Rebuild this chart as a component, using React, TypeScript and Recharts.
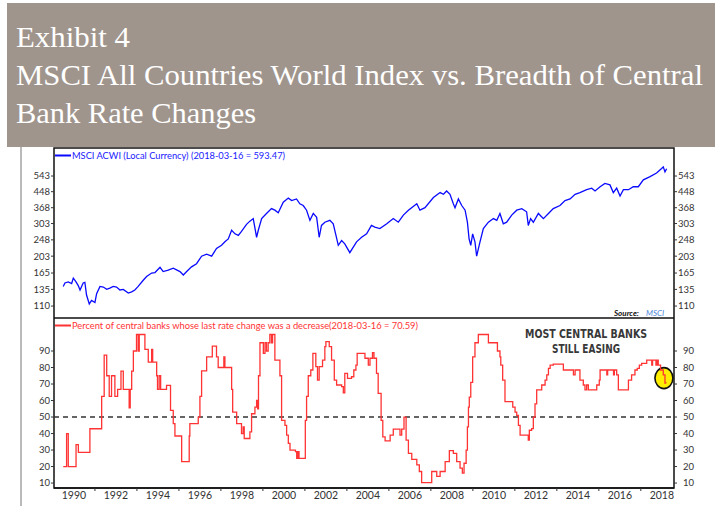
import React from 'react';
import { LineChart, Line, XAxis, YAxis, ReferenceLine, ReferenceArea, ReferenceDot } from 'recharts';

// MSCI ACWI (local currency)
const msciYears = [
  1989.49, 1989.57, 1989.73, 1989.89, 1989.97, 1990.1, 1990.21, 1990.29, 1990.44, 1990.52,
  1990.6, 1990.73, 1990.84, 1991.0, 1991.08, 1991.24, 1991.4, 1991.56, 1991.71, 1991.87,
  1992.03, 1992.19, 1992.35, 1992.59, 1992.75, 1992.9, 1993.06, 1993.3, 1993.46, 1993.7,
  1993.86, 1994.1, 1994.25, 1994.49, 1994.73, 1995.05, 1995.21, 1995.37, 1995.6, 1995.84,
  1996.08, 1996.32, 1996.56, 1996.79, 1997.03, 1997.19, 1997.35, 1997.51, 1997.67, 1997.83,
  1997.98, 1998.22, 1998.38, 1998.54, 1998.7, 1998.78, 1998.94, 1999.17, 1999.41, 1999.57,
  1999.73, 1999.97, 2000.21, 2000.37, 2000.6, 2000.76, 2000.92, 2001.08, 2001.24, 2001.4,
  2001.56, 2001.68, 2001.79, 2001.95, 2002.19, 2002.35, 2002.48, 2002.59, 2002.75, 2002.9,
  2003.14, 2003.46, 2003.7, 2003.94, 2004.17, 2004.33, 2004.57, 2004.9, 2005.21, 2005.45,
  2005.69, 2005.93, 2006.33, 2006.48, 2006.72, 2007.12, 2007.44, 2007.6, 2007.75, 2007.91,
  2008.07, 2008.15, 2008.31, 2008.47, 2008.63, 2008.74, 2008.82, 2008.9, 2008.99, 2009.1,
  2009.18, 2009.34, 2009.5, 2009.74, 2009.98, 2010.14, 2010.29, 2010.45, 2010.61, 2010.85,
  2011.09, 2011.33, 2011.56, 2011.64, 2011.75, 2011.88, 2012.12, 2012.36, 2012.6, 2012.83,
  2013.15, 2013.39, 2013.63, 2013.87, 2014.1, 2014.42, 2014.66, 2014.82, 2015.06, 2015.29,
  2015.53, 2015.69, 2015.85, 2016.01, 2016.17, 2016.41, 2016.64, 2016.88, 2017.12, 2017.44,
  2017.75, 2017.99, 2018.07, 2018.15, 2018.23,
];
const msciValues = [
  140, 146, 148, 145, 155, 148, 141, 134, 146, 147,
  126, 113, 118, 115, 128, 140, 139, 135, 137, 140,
  139, 134, 135, 129, 131, 134, 140, 151, 158, 165,
  166, 177, 168, 171, 175, 168, 161, 168, 178, 185,
  203, 208, 203, 223, 232, 242, 251, 279, 267, 262,
  275, 300, 312, 322, 256, 279, 322, 343, 364, 357,
  346, 394, 414, 402, 410, 386, 378, 357, 315, 343,
  327, 256, 296, 308, 315, 302, 262, 232, 246, 236,
  212, 242, 256, 267, 296, 290, 285, 302, 322, 308,
  336, 357, 386, 357, 368, 417, 443, 434, 452, 434,
  386, 368, 410, 378, 357, 308, 251, 232, 267, 242,
  203, 242, 285, 308, 322, 315, 343, 302, 308, 336,
  357, 364, 350, 296, 322, 308, 343, 322, 343, 364,
  378, 402, 410, 434, 443, 459, 468, 452, 476, 496,
  487, 443, 468, 425, 459, 459, 476, 476, 518, 539,
  563, 596, 608, 571, 593.47,
];

// percent of central banks whose last change was a cut (step series)
const rateYears = [
  1989.49, 1989.65, 1989.73, 1990.1, 1990.21, 1990.76, 1991.32, 1991.44, 1991.56, 1991.68,
  1991.79, 1991.95, 1992.08, 1992.24, 1992.35, 1992.63, 1992.68, 1992.75, 1992.83, 1992.98,
  1993.06, 1993.11, 1993.38, 1993.54, 1993.7, 1993.75, 1993.94, 1993.98, 1994.06, 1994.13,
  1994.41, 1994.6, 1994.73, 1994.81, 1995.13, 1995.49, 1995.52, 1995.92, 1996.0, 1996.08,
  1996.32, 1996.59, 1996.79, 1996.87, 1997.14, 1997.19, 1997.51, 1997.56, 1997.75, 1997.98,
  1998.06, 1998.11, 1998.38, 1998.46, 1998.62, 1998.7, 1998.75, 1998.79, 1998.86, 1999.02,
  1999.1, 1999.17, 1999.25, 1999.33, 1999.41, 1999.46, 1999.57, 1999.81, 1999.89, 2000.05,
  2000.13, 2000.21, 2000.29, 2000.55, 2000.61, 2000.66, 2000.72, 2001.02, 2001.08, 2001.16,
  2001.28, 2001.38, 2001.52, 2001.6, 2001.68, 2001.84, 2001.95, 2002.0, 2002.16, 2002.27,
  2002.4, 2002.51, 2002.75, 2002.83, 2002.9, 2003.03, 2003.22, 2003.33, 2003.43, 2003.49,
  2003.86, 2004.02, 2004.1, 2004.22, 2004.29, 2004.41, 2004.49, 2004.63, 2004.71, 2004.82,
  2005.06, 2005.21, 2005.53, 2005.61, 2005.72, 2005.82, 2005.93, 2006.09, 2006.33, 2006.45,
  2006.56, 2007.04, 2007.28, 2007.44, 2007.68, 2007.88, 2008.07, 2008.23, 2008.39, 2008.5,
  2008.58, 2008.68, 2008.74, 2008.79, 2008.83, 2008.9, 2008.99, 2009.1, 2009.26, 2009.74,
  2010.17, 2010.29, 2010.33, 2010.42, 2010.53, 2010.9, 2011.01, 2011.09, 2011.17, 2011.25,
  2011.64, 2011.69, 2011.8, 2011.88, 2011.96, 2012.04, 2012.28, 2012.44, 2012.52, 2012.6,
  2012.68, 2012.83, 2013.31, 2013.79, 2013.87, 2014.1, 2014.26, 2014.34, 2014.42, 2014.5,
  2014.9, 2015.02, 2015.06, 2015.38, 2015.42, 2015.7, 2015.74, 2015.85, 2015.93, 2016.41,
  2016.56, 2016.72, 2016.83, 2016.93, 2017.04, 2017.28, 2017.52, 2017.56, 2017.72, 2017.77,
  2017.83, 2017.94, 2018.07, 2018.15, 2018.21,
];
const rateValues = [
  20, 40, 20, 33.3, 28.6, 42.9, 62.5, 87.5, 75, 62.5,
  75, 62.5, 66.7, 77.8, 66.7, 55.6, 66.7, 77.8, 90, 100,
  90, 100, 91, 83.3, 91, 83.3, 75, 66.7, 75, 66.7,
  69.2, 54, 46, 38.5, 23, 38.5, 46, 50, 62.5, 78,
  86.5, 93, 86.5, 80, 86.5, 80, 66.7, 53, 46, 40,
  44, 37, 41, 52, 56, 60, 55, 75, 95, 88.6,
  95, 90, 95, 100, 95, 100, 84.5, 75, 48, 45,
  39, 34, 30, 29, 25, 29, 25, 48, 62.5, 75,
  78.5, 88.6, 80.5, 72.4, 80.5, 84.5, 92.6, 95.7, 92.6, 84.5,
  72.4, 69.4, 68.4, 64.7, 76.5, 73.4, 74.4, 78.5, 81.5, 88.6,
  85.6, 81.5, 85.6, 89, 85.6, 76.5, 64.3, 48, 38, 35.6,
  39, 42.7, 39, 42.7, 50, 36, 28, 24.3, 21, 17,
  10.2, 17, 14, 17, 23, 29.6, 28, 23, 19, 16,
  22, 30, 44, 56, 62, 71, 86.5, 95, 100, 95,
  90, 86.5, 81.5, 72.4, 59.3, 56, 53, 51, 45, 39,
  36, 42, 43, 50, 58, 66.4, 69.4, 72.4, 75.5, 79.5,
  81.5, 82, 78.5, 75.5, 78.5, 72.4, 69.4, 66.4, 69.4, 66.4,
  69.4, 72.4, 78.5, 75.5, 78.5, 75.5, 78.5, 75.5, 66.4, 72.4,
  75.5, 78.5, 79.5, 81.5, 82.5, 84.5, 81.5, 84.5, 81.5, 84.5,
  81.5, 78.5, 75.5, 70.6, 70.59,
];

const yearTicks = [
  1990, 1991, 1992, 1993, 1994, 1995, 1996, 1997, 1998, 1999, 2000, 2001, 2002, 2003, 2004,
  2005, 2006, 2007, 2008, 2009, 2010, 2011, 2012, 2013, 2014, 2015, 2016, 2017, 2018,
];
const msciTicks = [110, 135, 165, 203, 248, 303, 368, 448, 543];
const rateTicks = [10, 20, 30, 40, 50, 60, 70, 80, 90];

const X_MIN = 1989.05;
const X_MAX = 2018.58;
const MSCI_MIN = 95;
const MSCI_MAX = 766;
const RATE_MIN = 7;
const RATE_MAX = 110;

const msciData = msciYears.map((year, i) => ({ year, value: msciValues[i] }));
const rateData = rateYears.map((year, i) => ({ year, value: rateValues[i] }));

const tickFont = { fontSize: 9.5, fill: '#333', fontFamily: 'Lato' };

function YearTick(props: any) {
  const { x, y, payload } = props;
  if (payload.value % 2 === 1) {
    return <line x1={x} x2={x} y1={y} y2={y + 3} stroke="#333" strokeWidth={1} />;
  }
  return (
    <text x={x} y={y + 11} textAnchor="middle" fontSize={10.5} fill="#333" fontFamily="Lato">
      {payload.value}
    </text>
  );
}

function Ring(props: any) {
  const { cx, cy } = props;
  return <ellipse cx={cx} cy={cy} rx={9} ry={10.5} fill="#ffee00" stroke="#111" strokeWidth={1.6} />;
}

export default function App() {
  return (
    <div style={{ position: 'absolute', left: 0, top: 0, width: 715, height: 506, background: '#fff', overflow: 'hidden' }}>
      <div style={{ position: 'absolute', left: 7, top: 3, width: 708, height: 144, background: '#a0958d' }} />
      <svg width={715} height={506} style={{ position: 'absolute', left: 0, top: 0 }}>
        <g fontFamily="Liberation Serif" fontSize={30} fill="#fff">
          <text x={16} y={47} textLength={114} lengthAdjust="spacingAndGlyphs">Exhibit 4</text>
          <text x={16} y={85} textLength={687} lengthAdjust="spacingAndGlyphs">MSCI All Countries World Index vs. Breadth of Central</text>
          <text x={16} y={123} textLength={240} lengthAdjust="spacingAndGlyphs">Bank Rate Changes</text>
        </g>
        <line x1={21} x2={21} y1={147} y2={506} stroke="#8c8c8c" strokeWidth={1.2} />
      </svg>

      <div style={{ position: 'absolute', left: 0, top: 0 }}>
        <LineChart width={715} height={318} data={msciData} margin={{ top: 148, right: 0, bottom: 0, left: 0 }}>
          <XAxis dataKey="year" type="number" domain={[X_MIN, X_MAX]} allowDataOverflow hide />
          <YAxis yAxisId="l" scale="log" domain={[MSCI_MIN, MSCI_MAX]} allowDataOverflow ticks={msciTicks}
            width={54} axisLine={false} tickSize={3} tickMargin={1} tick={tickFont} tickLine={{ stroke: '#333' }} />
          <YAxis yAxisId="r" orientation="right" scale="log" domain={[MSCI_MIN, MSCI_MAX]} allowDataOverflow ticks={msciTicks}
            width={41} axisLine={false} tickSize={3} tickMargin={1} tick={tickFont} tickLine={{ stroke: '#333' }} />
          <ReferenceArea yAxisId="l" x1={X_MIN} x2={X_MAX} y1={MSCI_MIN} y2={MSCI_MAX} fill="none" stroke="#111" strokeWidth={1.5} fillOpacity={0} />
          <Line yAxisId="l" dataKey="value" type="linear" stroke="#0a0aff" strokeWidth={1.3} dot={false} isAnimationActive={false} />
        </LineChart>
      </div>

      <div style={{ position: 'absolute', left: 0, top: 318 }}>
        <LineChart width={715} height={188} data={rateData} margin={{ top: 0, right: 0, bottom: 0, left: 0 }}>
          <XAxis dataKey="year" type="number" domain={[X_MIN, X_MAX]} allowDataOverflow ticks={yearTicks}
            height={18} axisLine={{ stroke: '#111', strokeWidth: 1.5 }} tickLine={false} tickSize={0} tickMargin={0} tick={<YearTick />} interval={0} />
          <YAxis yAxisId="l" domain={[RATE_MIN, RATE_MAX]} allowDataOverflow ticks={rateTicks}
            width={54} axisLine={false} tickSize={3} tickMargin={1} tick={tickFont} tickLine={{ stroke: '#333' }} />
          <YAxis yAxisId="r" orientation="right" domain={[RATE_MIN, RATE_MAX]} allowDataOverflow ticks={rateTicks}
            width={41} axisLine={false} tickSize={3} tickMargin={6} tick={tickFont} tickLine={{ stroke: '#333' }} />
          <ReferenceArea yAxisId="l" x1={X_MIN} x2={X_MAX} y1={RATE_MIN} y2={RATE_MAX} fill="none" stroke="#111" strokeWidth={1.5} fillOpacity={0} />
          <ReferenceLine yAxisId="l" y={50} stroke="#333" strokeWidth={1.5} strokeDasharray="5 4" />
          <ReferenceDot yAxisId="l" x={2018.1} y={73.6} r={10} shape={<Ring />} zIndex={350} />
          <Line yAxisId="l" dataKey="value" type="stepAfter" stroke="#ff3333" strokeWidth={1.3} dot={false} isAnimationActive={false} />
        </LineChart>
      </div>

      <svg width={715} height={506} style={{ position: 'absolute', left: 0, top: 0, pointerEvents: 'none' }}>
        <line x1={55} x2={71} y1={155.5} y2={155.5} stroke="#0a0aff" strokeWidth={2} />
        <text x={72} y={159} fontFamily="Lato" fontSize={9.5} fill="#2020ff" textLength={213} lengthAdjust="spacingAndGlyphs">
          MSCI ACWI (Local Currency) (2018-03-16 = 593.47)
        </text>
        <line x1={55} x2={71} y1={325.5} y2={325.5} stroke="#ff3333" strokeWidth={2} />
        <text x={72} y={329} fontFamily="Lato" fontSize={9.5} fill="#ff3333" textLength={346} lengthAdjust="spacingAndGlyphs">
          Percent of central banks whose last rate change was a decrease(2018-03-16 = 70.59)
        </text>
        <text x={614} y={315.5} fontFamily="Lato" fontSize={8} fontStyle="italic" fontWeight="bold" fill="#111">Source:</text>
        <text x={646} y={315.5} fontFamily="Lato" fontSize={8} fontStyle="italic" fill="#4a86d8">MSCI</text>
        <g fontFamily="DejaVu Sans Condensed" fontWeight="bold" fontSize={12.5} fill="#383838" textAnchor="middle">
          <text x={586} y={337.5} textLength={122} lengthAdjust="spacingAndGlyphs">MOST CENTRAL BANKS</text>
          <text x={586} y={352.5} textLength={68} lengthAdjust="spacingAndGlyphs">STILL EASING</text>
        </g>
      </svg>
    </div>
  );
}
